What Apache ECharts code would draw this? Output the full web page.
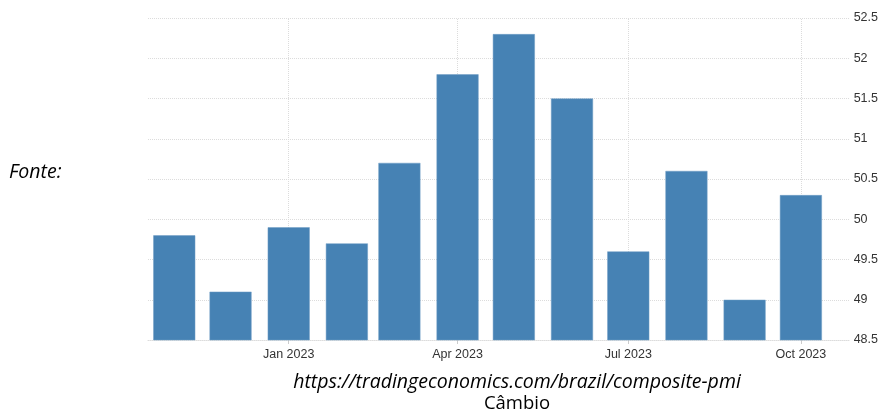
<!DOCTYPE html>
<html>
<head>
<meta charset="utf-8">
<script src="https://cdn.jsdelivr.net/npm/echarts@6/dist/echarts.min.js"></script>
<style>
  html, body { margin: 0; padding: 0; background: #fff; }
  #chart { width: 881px; height: 414px; }
</style>
</head>
<body>
<div id="chart"></div>
<script>
// Brazil composite PMI, monthly
const months = [
  "2022-11-01", "2022-12-01", "2023-01-01", "2023-02-01", "2023-03-01", "2023-04-01",
  "2023-05-01", "2023-06-01", "2023-07-01", "2023-08-01", "2023-09-01", "2023-10-01"
];
const values = [49.8, 49.1, 49.9, 49.7, 50.7, 51.8, 52.3, 51.5, 49.6, 50.6, 49.0, 50.3];

const tickDates = ["2023-01-01", "2023-04-01", "2023-07-01", "2023-10-01"];
const monthNames = ["Jan", "Feb", "Mar", "Apr", "May", "Jun", "Jul", "Aug", "Sep", "Oct", "Nov", "Dec"];

const sourceLabel = "Fonte:";
const sourceUrl = "https://tradingeconomics.com/brazil/composite-pmi";
const caption = "Câmbio";

const gridColor = "#dcdcdc";
const labelColor = "#333";

// dates as UTC timestamps on a plain value axis
const ts = (s) => Date.parse(s + "T00:00:00Z");
const tickTs = tickDates.map(ts);

const chart = echarts.init(document.getElementById("chart"), null, { renderer: "canvas" });

chart.setOption({
  backgroundColor: "#fff",
  animation: false,
  grid: { left: 148, right: 29, top: 18, bottom: 74, containLabel: false },
  xAxis: {
    type: "value",
    min: ts("2022-10-18"),
    max: ts("2023-10-27"),
    axisLine: { show: true, onZero: false, lineStyle: { color: gridColor, type: "dotted" } },
    axisTick: { show: true, customValues: tickTs, length: 4, lineStyle: { color: "#ccc" } },
    axisLabel: {
      customValues: tickTs,
      color: labelColor,
      fontSize: 12.5,
      fontFamily: "Liberation Sans",
      margin: 8,
      formatter: (v) => {
        const d = new Date(v);
        return monthNames[d.getUTCMonth()] + " " + d.getUTCFullYear();
      }
    },
    splitLine: { show: false }
  },
  yAxis: {
    type: "value",
    position: "right",
    min: 48.5,
    max: 52.5,
    interval: 0.5,
    axisLine: { show: false },
    axisTick: { show: false },
    axisLabel: { color: labelColor, fontSize: 12.5, fontFamily: "Liberation Sans", margin: 4 },
    splitLine: { lineStyle: { color: gridColor, type: "dotted" } }
  },
  series: [
    {
      type: "bar",
      barWidth: 42,
      data: months.map((m, i) => [ts(m), values[i]]),
      itemStyle: { color: "#4682b4", borderColor: "#6f9cc4", borderWidth: 0.5 },
      markLine: {
        silent: true,
        symbol: "none",
        label: { show: false },
        lineStyle: { color: gridColor, type: "dotted", width: 1 },
        data: tickTs.map((t) => ({ xAxis: t })),
        z: 0
      },
      z: 2
    }
  ],
  graphic: [
    {
      type: "text",
      x: 9,
      y: 172,
      style: {
        text: sourceLabel, fontSize: 19.5, fontStyle: "italic", fontFamily: "Open Sans",
        fill: "#000", verticalAlign: "middle"
      }
    },
    {
      type: "text",
      x: 517,
      y: 382,
      style: {
        text: sourceUrl, fontSize: 19.5, fontStyle: "italic", fontFamily: "Open Sans",
        fill: "#000", align: "center", verticalAlign: "middle"
      }
    },
    {
      type: "text",
      x: 517,
      y: 404,
      style: {
        text: caption, fontSize: 18.5, fontFamily: "Open Sans",
        fill: "#000", align: "center", verticalAlign: "middle"
      }
    }
  ]
});
</script>
</body>
</html>
